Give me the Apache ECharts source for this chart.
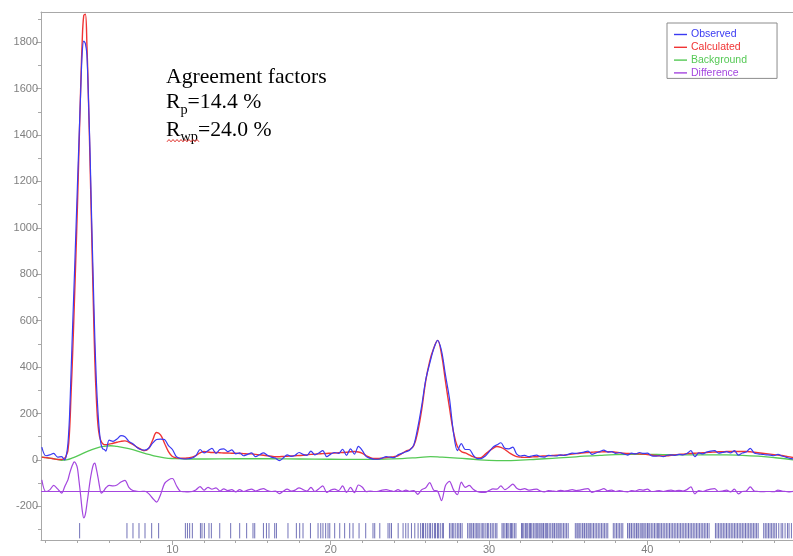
<!DOCTYPE html>
<html>
<head>
<meta charset="utf-8">
<script src="https://cdn.jsdelivr.net/npm/echarts@6/dist/echarts.min.js"></script>
<style>
  html, body { margin: 0; padding: 0; background: #ffffff; }
  #chart { width: 793px; height: 556px; }
</style>
</head>
<body>
<div id="chart"></div>
<script>
// Rietveld refinement plot: observed / calculated / background / difference + reflection ticks

// 2θ grid shared by the observed, calculated and difference profiles
const twoTheta = [
  1.75, 2.0, 2.25, 2.5, 2.75, 3.0,
  3.2, 3.3, 3.4, 3.5, 3.6, 3.7, 3.8, 3.9, 4.0, 4.1, 4.2, 4.3, 4.4, 4.5, 4.6, 4.7, 4.8, 4.9, 5.0, 5.1, 5.2, 5.3, 5.4, 5.5, 5.6, 5.7, 5.8,
  6.0, 6.25, 6.5, 6.75, 7.0, 7.25, 7.5, 7.75,
  8.0, 8.25, 8.5, 8.75, 9.0, 9.25, 9.5, 9.75,
  10.0, 10.25, 10.5, 10.75, 11.0, 11.25, 11.5, 11.75,
  12.0, 12.25, 12.5, 12.75, 13.0, 13.25, 13.5, 13.75,
  14.0, 14.25, 14.5, 14.75, 15.0, 15.25, 15.5, 15.75,
  16.0, 16.25, 16.5, 16.75, 17.0, 17.25, 17.5, 17.75,
  18.0, 18.25, 18.5, 18.75, 19.0, 19.25, 19.5, 19.75,
  20.0, 20.25, 20.5, 20.75, 21.0, 21.25, 21.5, 21.75,
  22.0, 22.25, 22.5, 22.75, 23.0, 23.25, 23.5, 23.75,
  24.0, 24.25, 24.5, 24.75, 25.0, 25.25, 25.5, 25.75,
  26.0, 26.25, 26.5, 26.75, 27.0, 27.25, 27.5, 27.75,
  28.0, 28.25, 28.5, 28.75, 29.0, 29.25, 29.5, 29.75,
  30.0, 30.25, 30.5, 30.75, 31.0, 31.25, 31.5, 31.75,
  32.0, 32.25, 32.5, 32.75, 33.0, 33.25, 33.5, 33.75,
  34.0, 34.25, 34.5, 34.75, 35.0, 35.25, 35.5, 35.75,
  36.0, 36.25, 36.5, 36.75, 37.0, 37.25, 37.5, 37.75,
  38.0, 38.25, 38.5, 38.75, 39.0, 39.25, 39.5, 39.75,
  40.0, 40.25, 40.5, 40.75, 41.0, 41.25, 41.5, 41.75,
  42.0, 42.25, 42.5, 42.75, 43.0, 43.25, 43.5, 43.75,
  44.0, 44.25, 44.5, 44.75, 45.0, 45.25, 45.5, 45.75,
  46.0, 46.25, 46.5, 46.75, 47.0, 47.25, 47.5, 47.75,
  48.0, 48.25, 48.5, 48.75, 49.0, 49.25
];

const observed = [
  55, 18, 22, 28, 12, 14,
  0, 20, 70, 185, 380, 580, 775, 975, 1180, 1380, 1575, 1750, 1805, 1795, 1745, 1550, 1320, 1035, 775, 525, 335, 205, 115, 65, 48, 45, 38,
  85, 80, 90, 105, 100, 80, 70, 55,
  45, 42, 50, 72, 88, 90, 88, 62,
  45, 14, 6, 4, 5, 8, 20, 45,
  30, 40, 50, 28, 45, 48, 36, 43,
  26, 30, 18, 24, 30, 14, 22, 30,
  20, 12, 8, -3, 8, 22, 15, 20,
  32, 24, 20, 38, 22, 30, 40, 14,
  25, 32, 28, 46, 20, 48, 25, 58,
  40, 14, 7, 3, 3, 8, 14, 12,
  10, 22, 28, 35, 43, 65, 140, 235,
  345, 415, 478, 515, 470, 365, 265, 120,
  40, 70, 45, 45, 21, 6, 6, 16,
  35, 55, 65, 74, 50, 48, 55, 25,
  17, 20, 14, 18, 21, 14, 12, 20,
  18, 17, 22, 20, 24, 29, 28, 31,
  34, 38, 24, 30, 36, 42, 34, 36,
  28, 32, 26, 21, 29, 26, 32, 28,
  29, 18, 16, 18, 14, 20, 22, 20,
  24, 22, 28, 40, 14, 30, 26, 34,
  38, 40, 29, 32, 36, 30, 40, 21,
  30, 34, 50, 30, 26, 24, 22, 21,
  18, 24, 17, 12, 7, 4
];

const calculated = [
  12, 10, 8, 5, 2, 2,
  8, 20, 40, 120, 285, 460, 660, 870, 1090, 1340, 1590, 1800, 1915, 1920, 1790, 1550, 1275, 980, 690, 430, 260, 150, 100, 80, 70, 66, 66,
  68, 72, 76, 80, 82, 76, 67, 55,
  46, 40, 50, 85, 118, 108, 72, 36,
  15, 9, 7, 7, 9, 12, 20, 30,
  36, 34, 32, 32, 31, 30, 30, 29,
  29, 28, 27, 26, 26, 24, 22, 20,
  18, 16, 14, 14, 15, 16, 17, 18,
  19, 20, 22, 24, 25, 26, 27, 28,
  29, 30, 31, 32, 33, 35, 36, 34,
  28, 18, 10, 6, 6, 8, 10, 12,
  14, 18, 28, 38, 45, 62, 122, 218,
  340, 425, 480, 515, 455, 338, 225, 122,
  58, 36, 30, 22, 14, 9, 10, 24,
  38, 50, 58, 54, 45, 32, 22, 14,
  12, 11, 11, 13, 14, 16, 17, 18,
  19, 20, 20, 21, 23, 25, 27, 29,
  31, 32, 33, 34, 34, 35, 35, 35,
  33, 31, 29, 28, 27, 27, 26, 25,
  23, 21, 19, 18, 17, 18, 20, 22,
  24, 25, 27, 28, 29, 30, 31, 32,
  33, 34, 35, 35, 36, 36, 36, 36,
  36, 36, 35, 33, 31, 29, 27, 25,
  23, 21, 19, 16, 13, 10
];

// Difference curve (obs - calc), plotted with an offset below the pattern
const difference = [
  -86, -136, -129, -110, -125, -143,
  -115, -100, -86, -60, -38, -20, -8, -15, -35, -90, -150, -215, -250, -235, -190, -140, -90, -50, -22, -14, -40, -75, -115, -143, -138, -130, -120,
  -110, -112, -108, -95, -88, -118, -132, -135,
  -136, -135, -145, -165, -182, -150, -102, -86,
  -80, -110, -135, -137, -138, -136, -128, -115,
  -130, -118, -126, -120, -134, -125, -132, -128,
  -138, -128, -136, -130, -126, -134, -128, -124,
  -132, -136, -134, -145, -135, -126, -134, -130,
  -120, -128, -134, -118, -136, -124, -112, -140,
  -130, -126, -132, -112, -140, -118, -141, -108,
  -118, -137, -134, -136, -135, -130, -128, -132,
  -136, -128, -135, -130, -135, -132, -148, -128,
  -120, -98, -130, -134, -175, -110, -92, -128,
  -150, -96, -118, -110, -126, -136, -140, -140,
  -132, -125, -126, -112, -128, -118, -104, -122,
  -128, -124, -130, -128, -126, -134, -138, -132,
  -134, -136, -131, -134, -132, -128, -132, -130,
  -126, -124, -140, -134, -130, -124, -133, -130,
  -136, -132, -136, -138, -132, -134, -128, -130,
  -126, -136, -135, -132, -136, -132, -130, -134,
  -131, -134, -128, -116, -146, -132, -136, -130,
  -126, -124, -136, -134, -130, -138, -126, -146,
  -136, -134, -116, -134, -136, -137, -136, -136,
  -137, -130, -134, -136, -138, -135
];
const differenceZero = -133;

// Refined background on its own coarser grid
const bgTheta = [
  1.75, 2.25, 2.75, 3.0, 3.3, 3.75, 4.25, 4.75, 5.25, 5.75,
  6.1, 6.5, 7.0, 7.5, 8.0, 8.5, 9.0, 9.5, 10.0, 11.0,
  12.0, 14.0, 16.0, 18.0, 20.0, 22.0, 23.0, 24.5, 25.5, 26.3,
  27.0, 28.0, 29.0, 30.0, 31.0, 32.0, 33.0, 34.0, 35.0, 36.0,
  37.0, 38.0, 39.0, 40.0, 41.0, 42.0, 43.0, 44.0, 45.0, 46.0,
  47.0, 48.0, 48.7, 49.25
];
const background = [
  12, 8, 2, -2, 0, 10, 25, 40, 52, 59,
  61, 58, 52, 44, 34, 24, 15, 9, 6, 4,
  4, 5, 5, 4, 3, 2, 3, 6, 10, 14,
  12, 8, 3, -2, -3, -1, 3, 7, 11, 16,
  20, 23, 24, 24, 23, 22, 22, 22, 22, 20,
  16, 10, 5, 0
];

// Bragg reflection positions (2θ)
const reflections = [
  4.14,
  7.13, 7.51, 7.89, 8.27, 8.69, 9.13,
  10.82, 10.95, 11.09, 11.26, 11.77, 11.87, 12.02, 12.31, 12.46, 12.99,
  13.68, 14.25, 14.69, 15.09, 15.2, 15.75, 15.94, 16.10, 16.46, 16.57,
  17.30, 17.83, 18.04, 18.25, 18.72, 19.20, 19.37, 19.51, 19.68, 19.83, 19.94,
  20.25, 20.57, 20.88, 21.2, 21.41, 21.79, 22.21, 22.67, 22.78, 23.1,
  23.62, 23.73, 23.84, 24.26, 24.57, 24.74, 24.89, 25.1, 25.31, 25.52,
  25.68, 25.8, 25.86, 25.98, 26.1, 26.22, 26.3, 26.42, 26.55, 26.62, 26.74, 26.8, 26.92, 27.05, 27.12,
  27.5, 27.6, 27.7, 27.78, 27.9, 28.02, 28.1, 28.2, 28.3,
  28.65, 28.75, 28.85, 28.92, 29.02, 29.12, 29.22, 29.3, 29.38, 29.5, 29.6, 29.68, 29.8, 29.9, 29.98,
  30.1, 30.2, 30.3, 30.42, 30.5, 30.82, 30.9, 31.0, 31.1, 31.15, 31.25, 31.35, 31.42, 31.5, 31.6, 31.7,
  32.05, 32.12, 32.2, 32.3, 32.38, 32.45, 32.55, 32.62, 32.7, 32.8, 32.9, 32.98,
  33.05, 33.15, 33.22, 33.3, 33.4, 33.45, 33.55, 33.62, 33.7, 33.8, 33.9,
  34.0, 34.1, 34.15, 34.25, 34.35, 34.42, 34.5, 34.6, 34.7, 34.8, 34.9, 35.0,
  35.45, 35.55, 35.62, 35.7, 35.8, 35.9, 36.0, 36.05, 36.15, 36.25, 36.32, 36.4, 36.5, 36.6, 36.7, 36.8, 36.9,
  37.0, 37.1, 37.2, 37.3, 37.4, 37.5, 37.85, 37.95, 38.05, 38.15, 38.25, 38.35, 38.45,
  38.75, 38.85, 38.9, 39.0, 39.1, 39.2, 39.3, 39.35, 39.45, 39.55, 39.65, 39.72, 39.8, 39.9,
  40.0, 40.05, 40.15, 40.25, 40.35, 40.45, 40.55, 40.65, 40.72, 40.8, 40.9,
  41.0, 41.1, 41.2, 41.3, 41.4, 41.5, 41.6, 41.7, 41.8, 41.9,
  42.0, 42.1, 42.2, 42.3, 42.4, 42.5, 42.6, 42.7, 42.8, 42.9,
  43.0, 43.1, 43.2, 43.3, 43.4, 43.5, 43.6, 43.7, 43.8, 43.9,
  44.3, 44.4, 44.5, 44.6, 44.7, 44.8, 44.9, 45.0, 45.1, 45.2, 45.3, 45.4, 45.5, 45.6, 45.7, 45.8, 45.9,
  46.0, 46.1, 46.2, 46.3, 46.4, 46.5, 46.6, 46.7, 46.8, 46.9, 47.0,
  47.35, 47.45, 47.55, 47.65, 47.75, 47.85, 47.95, 48.05, 48.15, 48.3, 48.45, 48.55, 48.7, 48.85, 48.95, 49.1
];

// Axis tick positions
const xLabelTicks = [10, 20, 30, 40];
const xMinorTicks = [2, 4, 6, 8, 12, 14, 16, 18, 22, 24, 26, 28, 32, 34, 36, 38, 42, 44, 46, 48];
const yLabelTicks = [-200, 0, 200, 400, 600, 800, 1000, 1200, 1400, 1600, 1800];
const yMinorTicks = [-300, -100, 100, 300, 500, 700, 900, 1100, 1300, 1500, 1700, 1900];

const X_MIN = 1.7, X_MAX = 49.2, Y_MIN = -345, Y_MAX = 1930;
const TICK_TOP = -272, TICK_BOTTOM = -338;

const COLORS = {
  obs: '#3a3af2',
  calc: '#f03434',
  bg: '#55c955',
  diff: '#a446df',
  refl: '#1b1b8c',
  axis: '#a8a8a8',
  label: '#808080'
};

const pairs = (xs, ys) => xs.map((x, i) => [x, ys[i]]);

const chart = echarts.init(document.getElementById('chart'), null, { renderer: 'canvas' });

const axisLineStyle = { color: COLORS.axis, width: 1 };
const serif = 'Liberation Serif';
const mainText = { fontFamily: serif, fontSize: 21.7, lineHeight: 25, fill: '#000', verticalAlign: 'top' };
const subText = { fontFamily: serif, fontSize: 14.3, lineHeight: 14.3, padding: [11.5, 0, 0, 0], fill: '#000', verticalAlign: 'top' };

// spell-check style squiggle under "Rwp"
const squiggle = [];
for (let x = 167, k = 0; x <= 199; x += 2, k++) squiggle.push([x, k % 2 ? 139.5 : 141.8]);

const option = {
  animation: false,
  backgroundColor: '#ffffff',
  grid: { left: 41, right: 0, top: 12, bottom: 16 },
  legend: {
    orient: 'vertical',
    left: 667,
    top: 23,
    padding: [6, 30, 0, 7],
    itemGap: 1.8,
    itemWidth: 13,
    itemHeight: 11,
    icon: 'path://M0,5.2 L13,5.2 L13,6.6 L0,6.6 Z',
    backgroundColor: '#ffffff',
    borderColor: '#8c8c8c',
    borderWidth: 1,
    textStyle: { fontFamily: 'Liberation Sans', fontSize: 10.5, padding: [0, 0, 0, -1] },
    data: [
      { name: 'Observed', textStyle: { color: COLORS.obs } },
      { name: 'Calculated', textStyle: { color: COLORS.calc } },
      { name: 'Background', textStyle: { color: COLORS.bg } },
      { name: 'Difference', textStyle: { color: COLORS.diff } }
    ]
  },
  xAxis: [
    {
      type: 'value', position: 'bottom', min: X_MIN, max: X_MAX,
      axisLine: { show: true, onZero: false, lineStyle: axisLineStyle },
      axisTick: { show: true, length: 5, customValues: xLabelTicks, lineStyle: axisLineStyle },
      axisLabel: { customValues: xLabelTicks, color: COLORS.label, fontSize: 11, fontFamily: 'Liberation Sans', margin: 4,
                   formatter: v => String(v) },
      splitLine: { show: false }
    },
    {
      type: 'value', position: 'bottom', min: X_MIN, max: X_MAX,
      axisLine: { show: false, onZero: false },
      axisTick: { show: true, length: 3, customValues: xMinorTicks, lineStyle: axisLineStyle },
      axisLabel: { show: false },
      splitLine: { show: false }
    },
    {
      type: 'value', position: 'top', min: X_MIN, max: X_MAX,
      axisLine: { show: true, onZero: false, lineStyle: axisLineStyle },
      axisTick: { show: false },
      axisLabel: { show: false },
      splitLine: { show: false }
    }
  ],
  yAxis: [
    {
      type: 'value', position: 'left', min: Y_MIN, max: Y_MAX,
      axisLine: { show: true, onZero: false, lineStyle: axisLineStyle },
      axisTick: { show: true, length: 5, customValues: yLabelTicks, lineStyle: axisLineStyle },
      axisLabel: { customValues: yLabelTicks, color: COLORS.label, fontSize: 11, fontFamily: 'Liberation Sans', margin: 3,
                   formatter: v => String(v) },
      splitLine: { show: false }
    },
    {
      type: 'value', position: 'left', min: Y_MIN, max: Y_MAX,
      axisLine: { show: false, onZero: false },
      axisTick: { show: true, length: 3, customValues: yMinorTicks, lineStyle: axisLineStyle },
      axisLabel: { show: false },
      splitLine: { show: false }
    }
  ],
  series: [
    {
      name: 'Background', type: 'line', xAxisIndex: 0, yAxisIndex: 0,
      data: pairs(bgTheta, background), smooth: 0.5, symbol: 'none',
      lineStyle: { color: COLORS.bg, width: 1.3 }, itemStyle: { color: COLORS.bg }, z: 2
    },
    {
      name: 'Calculated', type: 'line', xAxisIndex: 0, yAxisIndex: 0,
      data: pairs(twoTheta, calculated), smooth: 0.4, symbol: 'none',
      lineStyle: { color: COLORS.calc, width: 1.4 }, itemStyle: { color: COLORS.calc }, z: 3
    },
    {
      name: 'Observed', type: 'line', xAxisIndex: 0, yAxisIndex: 0,
      data: pairs(twoTheta, observed), smooth: 0.3, symbol: 'none',
      lineStyle: { color: COLORS.obs, width: 1.2 }, itemStyle: { color: COLORS.obs }, z: 4
    },
    {
      name: 'Difference', type: 'line', xAxisIndex: 0, yAxisIndex: 0,
      data: pairs(twoTheta, difference), smooth: 0.3, symbol: 'none',
      lineStyle: { color: COLORS.diff, width: 1.2 }, itemStyle: { color: COLORS.diff }, z: 3,
      markLine: {
        silent: true, symbol: 'none', label: { show: false },
        lineStyle: { color: COLORS.diff, type: 'solid', width: 1.2 },
        data: [{ yAxis: differenceZero }]
      }
    },
    {
      name: 'Reflections', type: 'custom', xAxisIndex: 0, yAxisIndex: 0,
      data: reflections.map(v => [v]),
      encode: { x: 0 },
      renderItem: function (params, api) {
        const top = api.coord([api.value(0), TICK_TOP]);
        const bottom = api.coord([api.value(0), TICK_BOTTOM]);
        return {
          type: 'line',
          shape: { x1: top[0], y1: top[1], x2: bottom[0], y2: bottom[1] },
          style: { stroke: COLORS.refl, lineWidth: 1, opacity: 0.62 }
        };
      },
      z: 2
    }
  ],
  graphic: [
    {
      type: 'text', left: 166, top: 66,
      style: { text: '{r|Agreement factors}', rich: { r: mainText } }
    },
    {
      type: 'text', left: 166, top: 91.5,
      style: { text: '{r|R}{s|p}{r|=14.4 %}', rich: { r: mainText, s: subText } }
    },
    {
      type: 'text', left: 166, top: 119,
      style: { text: '{r|R}{s|wp}{r|=24.0 %}', rich: { r: mainText, s: subText } }
    },
    {
      type: 'polyline',
      shape: { points: squiggle },
      style: { stroke: '#e0302a', lineWidth: 1, fill: null }
    }
  ]
};

chart.setOption(option);
</script>
</body>
</html>
